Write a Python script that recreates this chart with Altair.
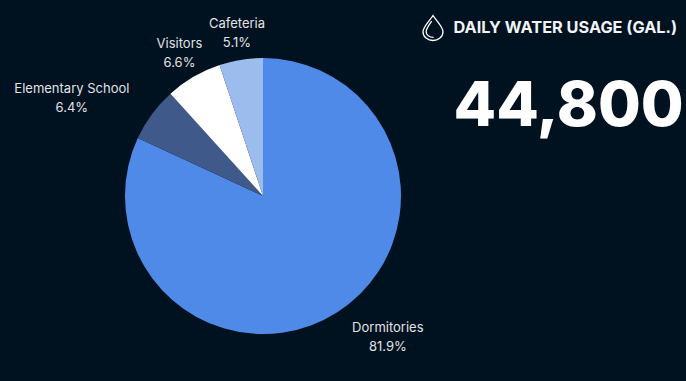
import altair as alt
import pandas as pd

# Daily water usage by building type
categories = ["Dormitories", "Elementary School", "Visitors", "Cafeteria"]
shares = [81.9, 6.4, 6.6, 5.1]
headline = "44,800"
heading = "DAILY WATER USAGE (GAL.)"

BACKGROUND = "#00111f"
slice_colors = ["#4f8ae8", "#3f5a8a", "#ffffff", "#9dbcee"]
CENTER_X, CENTER_Y, RADIUS = 263, 196, 138

# Offset of each label block from the rim of its slice
label_offsets = {
    "Dormitories": (50.5, 16),
    "Elementary School": (-80, -25),
    "Visitors": (-14, -33),
    "Cafeteria": (-4, -36),
}

table = pd.DataFrame({
    "category": categories,
    "share": shares,
    "rank": range(len(categories)),
})
table["label"] = [f"{c}\n{s:.1f}%" for c, s in zip(categories, shares)]

cx = alt.value(CENTER_X)
cy = alt.value(CENTER_Y)

pie = alt.Chart(table).mark_arc(radius=RADIUS).encode(
    x=cx,
    y=cy,
    theta=alt.Theta("share:Q", stack=True),
    order=alt.Order("rank:Q"),
    color=alt.Color(
        "category:N",
        scale=alt.Scale(domain=categories, range=slice_colors),
        legend=None,
    ),
)

# Labels sit at the mid-angle of their slice, found from the cumulative shares
stacked = alt.Chart(table).transform_window(
    running="sum(share)",
    sort=[alt.SortField("rank")],
).transform_calculate(mid="datum.running - datum.share / 2")

labels = []
for name, (dx, dy) in label_offsets.items():
    labels.append(
        stacked.transform_filter(alt.datum.category == name).mark_text(
            radius=RADIUS,
            dx=dx,
            dy=dy,
            font="Inter",
            fontSize=13,
            color="#e0e3e6",
            align="center",
            baseline="middle",
            lineBreak="\n",
            lineHeight=19,
        ).encode(
            x=cx,
            y=cy,
            theta=alt.Theta("mid:Q", scale=alt.Scale(domain=[0, 100]), stack=False),
            text="label:N",
        )
    )

note = pd.DataFrame({"heading": [heading], "headline": [headline]})

heading_text = alt.Chart(note).mark_text(
    font="Inter", fontSize=16.3, fontWeight=700, color="#f2f3f5",
    align="left", baseline="middle",
).encode(x=alt.value(453.5), y=alt.value(28), text="heading:N")

headline_text = alt.Chart(note).mark_text(
    font="Inter", fontSize=62, fontWeight=800, color="#ffffff",
    align="left", baseline="middle",
).encode(x=alt.value(453.5), y=alt.value(107), text="headline:N")

# Water-drop icon: outer outline plus an inner highlight curve
DROP_PATH = (
    "M0,-1 C0.25,-0.6 0.8,-0.1 0.8,0.3 C0.8,0.72 0.42,1 0,1 "
    "C-0.42,1 -0.8,0.72 -0.8,0.3 C-0.8,-0.1 -0.25,-0.6 0,-1 Z "
    "M-0.1,-0.55 C-0.35,-0.2 -0.55,0.05 -0.55,0.3 "
    "C-0.55,0.55 -0.3,0.75 0.05,0.75"
)
icon = alt.Chart(note).mark_point(
    shape=DROP_PATH, size=625, filled=False, stroke="#ffffff", strokeWidth=1.3, opacity=1,
).encode(x=alt.value(433), y=alt.value(28))

chart = alt.layer(pie, *labels, heading_text, headline_text, icon).resolve_scale(
    theta="independent"
).properties(
    width=686,
    height=381,
    padding=0,
    background=BACKGROUND,
    autosize=alt.AutoSizeParams(type="none"),
).configure_view(stroke=None)

chart.save("out.html", embed_options={"renderer": "svg", "actions": False})
